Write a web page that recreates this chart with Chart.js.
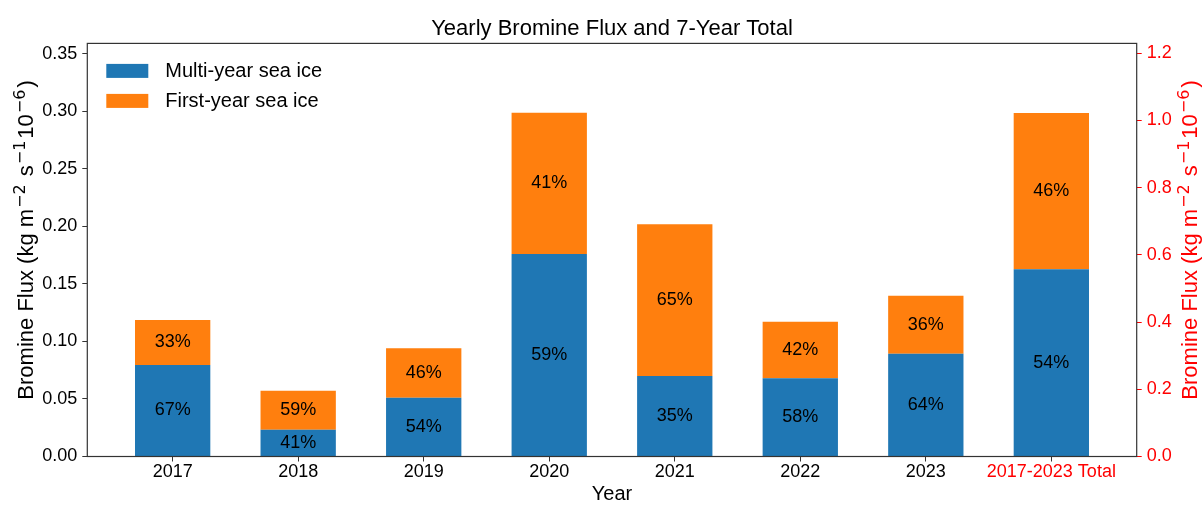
<!DOCTYPE html>
<html>
<head>
<meta charset="utf-8">
<script src="https://cdn.jsdelivr.net/npm/chart.js@4"></script>
<style>
  html, body { margin: 0; padding: 0; background: #fff; }
</style>
</head>
<body>
<canvas id="grafico-bromo" width="1203" height="506"></canvas>
<script>
// Etiquetas del eje X (7 años + total)
const etiquetasX = ['2017', '2018', '2019', '2020', '2021', '2022', '2023', '2017-2023 Total'];

// Flujo anual (eje izquierdo)
const multiAnual = [0.0796, 0.0232, 0.0511, 0.1760, 0.0700, 0.0680, 0.0894];
const primerAnio = [0.0391, 0.0340, 0.0430, 0.1227, 0.1319, 0.0492, 0.0502];

// Total 2017-2023 (eje derecho)
const multiTotal = [0.557];
const primerTotal = [0.465];

// Porcentajes que se muestran dentro de cada barra
const pctMulti = ['67%', '41%', '54%', '59%', '35%', '58%', '64%'];
const pctPrimer = ['33%', '59%', '46%', '41%', '65%', '42%', '36%'];
const pctMultiTotal = ['54%'];
const pctPrimerTotal = ['46%'];

// Límites de los ejes Y
const maxIzq = 0.359;
const maxDer = 1.229;

const AZUL = '#1f77b4';
const NARANJA = '#ff7f0e';
const FUENTE = '"Liberation Sans", Arial, sans-serif';

// Título de los ejes Y, por partes (sup = superíndice)
const tituloEje = [
  { t: 'Bromine Flux (kg m' },
  { t: '\u22122', sup: true },
  { t: ' s' },
  { t: '\u22121', sup: true },
  { t: '10' },
  { t: '\u22126', sup: true },
  { t: ')' },
];

// Convertir un array de valores en puntos {x, y}
function puntos(valores, inicio) {
  return valores.map((v, i) => ({ x: inicio + i, y: v }));
}

// Dibujar el título vertical con superíndices (línea base en xBase)
function dibujarTituloEje(ctx, xBase, yCentro, color) {
  const fNormal = '22px ' + FUENTE;
  const fSup = '16px "DejaVu Sans", sans-serif';
  ctx.save();
  let total = 0;
  const anchos = tituloEje.map((p) => {
    ctx.font = p.sup ? fSup : fNormal;
    const w = ctx.measureText(p.t).width + (p.sup ? 3 : 0);
    total += w;
    return w;
  });
  ctx.translate(xBase, yCentro);
  ctx.rotate(-Math.PI / 2);
  ctx.fillStyle = color;
  ctx.textAlign = 'left';
  ctx.textBaseline = 'alphabetic';
  let x = -total / 2;
  tituloEje.forEach((p, i) => {
    ctx.font = p.sup ? fSup : fNormal;
    ctx.fillText(p.t, x + (p.sup ? 1 : 0), p.sup ? -8.5 : 0);
    x += anchos[i];
  });
  ctx.restore();
}

// Plugin: porcentajes, leyenda, marco y títulos de los ejes Y
const extras = {
  id: 'extras',
  afterDraw(chart) {
    const ctx = chart.ctx;
    const area = chart.chartArea;
    const etiquetas = [pctMulti, pctPrimer, pctMultiTotal, pctPrimerTotal];

    // Porcentajes en el centro de cada segmento
    ctx.save();
    ctx.font = '18px ' + FUENTE;
    ctx.fillStyle = '#000';
    ctx.textAlign = 'center';
    ctx.textBaseline = 'middle';
    etiquetas.forEach((lista, di) => {
      chart.getDatasetMeta(di).data.forEach((barra, j) => {
        const { x, y, base } = barra.getProps(['x', 'y', 'base'], true);
        ctx.fillText(lista[j], x, (y + base) / 2);
      });
    });
    ctx.restore();

    // Leyenda dentro del área del gráfico
    ctx.save();
    ctx.font = '20px ' + FUENTE;
    ctx.textBaseline = 'middle';
    [0, 1].forEach((di, fila) => {
      const ds = chart.data.datasets[di];
      const y0 = area.top + 20.5 + fila * 30;
      ctx.fillStyle = ds.backgroundColor;
      ctx.fillRect(area.left + 19, y0, 42, 14);
      ctx.fillStyle = '#000';
      ctx.fillText(ds.label, area.left + 78, y0 + 8);
    });
    ctx.restore();

    // Marco completo alrededor del área
    ctx.save();
    ctx.strokeStyle = '#333';
    ctx.lineWidth = 1.2;
    ctx.strokeRect(area.left, area.top, area.right - area.left, area.bottom - area.top);
    ctx.restore();

    // Títulos de los ejes Y
    const yMedio = (area.top + area.bottom) / 2 - 10;
    dibujarTituloEje(ctx, 33, yMedio, '#000');
    dibujarTituloEje(ctx, 1197, yMedio, 'red');
  }
};

function crearGrafico() {
  const ctx = document.getElementById('grafico-bromo').getContext('2d');

  window.graficoBromo = new Chart(ctx, {
    type: 'bar',
    data: {
      datasets: [
        { label: 'Multi-year sea ice', data: puntos(multiAnual, 0), backgroundColor: AZUL, yAxisID: 'y', stack: 'a' },
        { label: 'First-year sea ice', data: puntos(primerAnio, 0), backgroundColor: NARANJA, yAxisID: 'y', stack: 'a' },
        { label: 'Multi-year total', data: puntos(multiTotal, 7), backgroundColor: AZUL, yAxisID: 'y2', stack: 'a' },
        { label: 'First-year total', data: puntos(primerTotal, 7), backgroundColor: NARANJA, yAxisID: 'y2', stack: 'a' },
      ],
    },
    options: {
      responsive: false,
      animation: false,
      layout: { padding: 0 },
      datasets: { bar: { barPercentage: 0.6, categoryPercentage: 1 } },
      plugins: {
        legend: { display: false },
        tooltip: { enabled: false },
        title: {
          display: true,
          fullSize: false,
          text: 'Yearly Bromine Flux and 7-Year Total',
          color: '#000',
          font: { family: FUENTE, size: 22, weight: 'normal' },
          padding: { top: 16, bottom: 1 },
        },
      },
      scales: {
        x: {
          type: 'linear',
          stacked: true,
          offset: false,
          min: -0.68,
          max: 7.68,
          afterBuildTicks: (eje) => { eje.ticks = etiquetasX.map((_, i) => ({ value: i })); },
          afterFit: (eje) => { eje.height = 49.5; },
          grid: { display: true, offset: false, drawOnChartArea: false, drawTicks: true, tickLength: 5, tickColor: '#333' },
          border: { display: false },
          ticks: {
            autoSkip: false,
            maxRotation: 0,
            padding: 0,
            font: { family: FUENTE, size: 18 },
            color: (c) => (c.tick && c.tick.value === 7 ? 'red' : '#000'),
            callback: (v) => etiquetasX[v],
          },
          title: { display: true, text: 'Year', color: '#000', font: { family: FUENTE, size: 20 }, padding: { top: 0, bottom: 0 } },
        },
        y: {
          position: 'left',
          stacked: true,
          min: 0,
          max: maxIzq,
          afterFit: (eje) => { eje.width = 87.3; },
          grid: { display: true, drawOnChartArea: false, drawTicks: true, tickLength: 5, tickColor: '#333' },
          border: { display: false },
          ticks: {
            stepSize: 0.05,
            includeBounds: false,
            padding: 5,
            color: '#000',
            font: { family: FUENTE, size: 18 },
            callback: (v) => v.toFixed(2),
          },
        },
        y2: {
          position: 'right',
          stacked: true,
          min: 0,
          max: maxDer,
          afterFit: (eje) => { eje.width = 66.3; },
          grid: { display: true, drawOnChartArea: false, drawTicks: true, tickLength: 5, tickColor: 'red' },
          border: { display: false },
          ticks: {
            stepSize: 0.2,
            includeBounds: false,
            padding: 5,
            color: 'red',
            font: { family: FUENTE, size: 18 },
            callback: (v) => v.toFixed(1),
          },
        },
      },
    },
    plugins: [extras],
  });
}

crearGrafico();
</script>
</body>
</html>
